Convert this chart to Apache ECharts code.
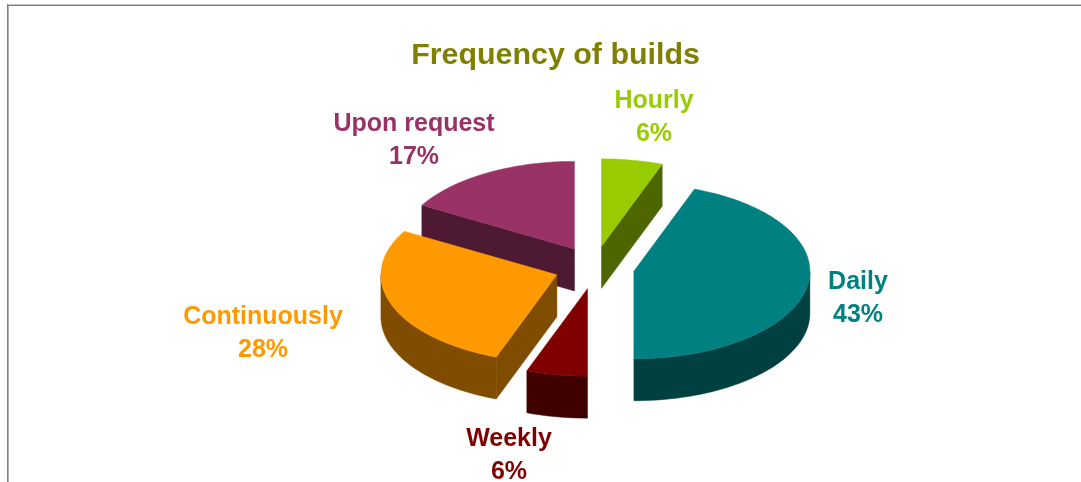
<!DOCTYPE html>
<html>
<head>
<meta charset="utf-8">
<style>html,body{margin:0;padding:0;background:#fff}#c{width:1081px;height:482px}</style>
<script src="https://cdn.jsdelivr.net/npm/echarts@6/dist/echarts.min.js"></script>
</head>
<body>
<div id="c"></div>
<script>
// Data
const categories = ['Hourly', 'Daily', 'Weekly', 'Continuously', 'Upon request'];
const shares = [5.6, 44.4, 5.6, 27.7, 16.7];
// Percent labels as printed on the chart
const printedLabels = ['6%', '43%', '6%', '28%', '17%'];

// Styles and layout
const topColors = ['#99CC00', '#008080', '#800000', '#FF9900', '#993366'];
const sideColors = ['#4D6600', '#004040', '#400000', '#804D00', '#4D1933'];
const paintOrder = [2, 3, 4, 5, 1]; // back-to-front stacking per category
const labelCenters = [[654, 118], [858, 299], [509, 456], [263, 334], [414, 141]];
const pie = { cx: 594.5, cy: 267.5, rx: 176, ry: 87.5, depth: 42, ex: 40, ey: 21.5 };
const fontFamily = '"Liberation Sans", Arial, sans-serif';

const total = shares.reduce((a, b) => a + b, 0);
function rad(deg) { return deg * Math.PI / 180; }
function pt(c, deg, dy) {
  return [c[0] + pie.rx * Math.sin(rad(deg)), c[1] - pie.ry * Math.cos(rad(deg)) + (dy || 0)];
}
function arc(c, a0, a1, dy) {
  const pts = [];
  const n = Math.max(2, Math.ceil((a1 - a0) / 2));
  for (let i = 0; i <= n; i++) pts.push(pt(c, a0 + (a1 - a0) * i / n, dy));
  return pts;
}
function renderSlice(params, api) {
  const i = params.dataIndex;
  const share = api.value(1);
  let before = 0;
  for (let k = 0; k < i; k++) before += shares[k];
  const a0 = before / total * 360;
  const a1 = (before + share) / total * 360;
  const mid = (a0 + a1) / 2;
  const c = [pie.cx + pie.ex * Math.sin(rad(mid)), pie.cy - pie.ey * Math.cos(rad(mid))];
  const cBelow = [c[0], c[1] + pie.depth];
  const children = [];
  const wall = pts => ({
    type: 'polygon', shape: { points: pts },
    style: { fill: sideColors[i], stroke: sideColors[i], lineWidth: 0.5 }
  });
  // radial walls that face the viewer
  if (Math.sin(rad(a0)) < -0.01) {
    const p = pt(c, a0);
    children.push(wall([c, p, [p[0], p[1] + pie.depth], cBelow]));
  }
  if (Math.sin(rad(a1)) > 0.01) {
    const p = pt(c, a1);
    children.push(wall([c, p, [p[0], p[1] + pie.depth], cBelow]));
  }
  // outer rim, front half only
  const v0 = Math.max(a0, 90), v1 = Math.min(a1, 270);
  if (v1 > v0) {
    children.push(wall(arc(c, v0, v1, 0).concat(arc(c, v0, v1, pie.depth).reverse())));
  }
  // top face
  children.push({
    type: 'polygon', shape: { points: [c].concat(arc(c, a0, a1, 0)) },
    style: { fill: topColors[i], stroke: topColors[i], lineWidth: 0.5 }
  });
  // label
  children.push({
    type: 'text',
    style: {
      x: labelCenters[i][0], y: labelCenters[i][1],
      text: categories[i] + '\n' + printedLabels[i],
      align: 'center', verticalAlign: 'middle',
      font: 'bold 25px ' + fontFamily, lineHeight: 33,
      fill: topColors[i]
    }
  });
  children.forEach(ch => { ch.z2 = paintOrder[i]; });
  return { type: 'group', children };
}

const chart = echarts.init(document.getElementById('c'), null, { renderer: 'canvas' });
chart.setOption({
  animation: false,
  backgroundColor: '#fff',
  title: {
    text: 'Frequency of builds',
    left: 550.5, top: 36, textAlign: 'center',
    textStyle: { color: '#808000', fontFamily, fontWeight: 'bold', fontSize: 30.4 }
  },
  graphic: [
    { type: 'rect', shape: { x: 7, y: 4, width: 1074, height: 1 }, style: { fill: '#c0c0c0' }, silent: true },
    { type: 'rect', shape: { x: 7, y: 5, width: 1074, height: 1 }, style: { fill: '#808080' }, silent: true },
    { type: 'rect', shape: { x: 7, y: 4, width: 1, height: 478 }, style: { fill: '#808080' }, silent: true },
    { type: 'rect', shape: { x: 8, y: 6, width: 1, height: 476 }, style: { fill: '#b0b0b0' }, silent: true }
  ],
  series: [{
    type: 'custom',
    coordinateSystem: 'none',
    renderItem: renderSlice,
    data: categories.map((name, i) => [i, shares[i]])
  }]
});
</script>
</body>
</html>
